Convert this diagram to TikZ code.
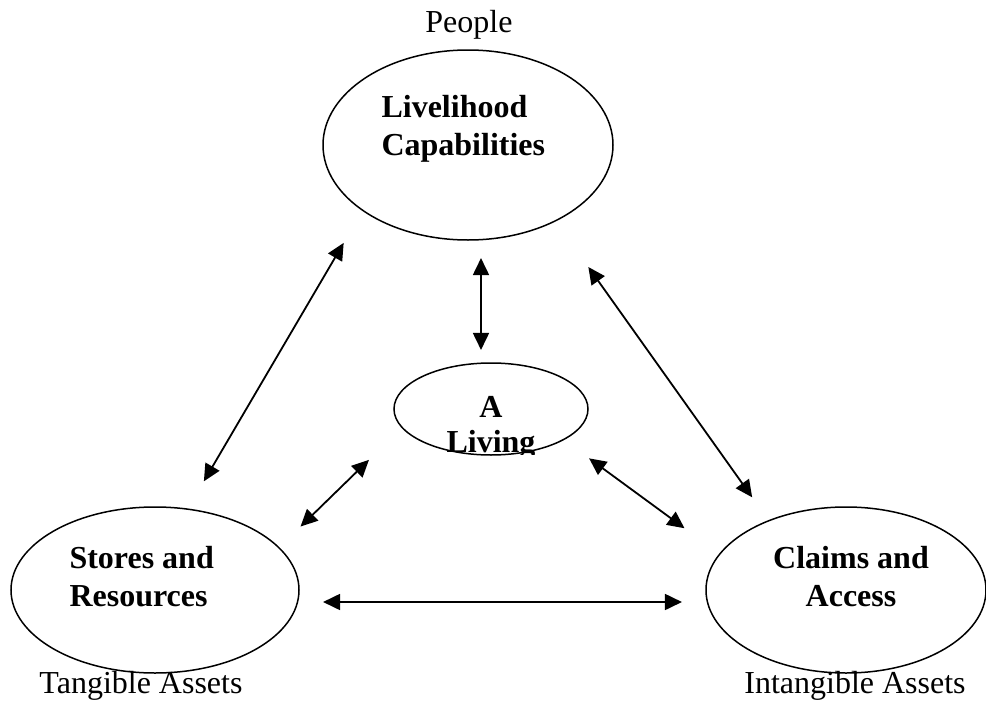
\documentclass[tikz,border=0pt]{standalone}
\usepackage{fontspec}
\setmainfont{Liberation Serif}
\usepackage{tikz}
\usetikzlibrary{positioning,arrows.meta,shapes.geometric}

\begin{document}
\begin{tikzpicture}[x=1pt, y=-1pt,
    every node/.style={font=\fontsize{32}{37.5}\selectfont},
    oval/.style={draw, ellipse, line width=1.5pt, inner sep=0pt},
    biarrow/.style={{Triangle[length=17pt, width=16pt]}-{Triangle[length=17pt, width=16pt]}, line width=1.8pt}]
  \useasboundingbox (0,0) rectangle (986,704);
  % the four circles
  \node[oval, minimum width=290pt, minimum height=190pt] (cap) at (468,145) {};
  \node[oval, minimum width=194pt, minimum height=92pt] (living) at (491,409) {};
  \node[oval, minimum width=288pt, minimum height=166pt] (stores) at (155,590) {};
  \node[oval, minimum width=280pt, minimum height=166pt] (claims) at (846,590) {};
  % texts (base = last line)
  \node[align=left, anchor=base west, font=\fontsize{32}{37.5}\selectfont\bfseries] (captext) at (378,155) {Livelihood\\Capabilities};
  \begin{scope}
    \clip (390,360) rectangle (592,454);
    \node[align=center, anchor=base, font=\fontsize{32}{35}\selectfont\bfseries] (livingtext) at (491,452) {A\\Living};
  \end{scope}
  \node[align=left, anchor=base west, font=\fontsize{32}{38}\selectfont\bfseries] (storestext) at (66,606) {Stores and\\Resources};
  \node[align=center, anchor=base, font=\fontsize{32}{38}\selectfont\bfseries] (claimstext) at (851,606) {Claims and\\Access};
  \node[anchor=base] (people) at (469,32) {People};
  \node[anchor=base] (tangible) at (141,693) {Tangible Assets};
  \node[anchor=base] (intangible) at (855,693) {Intangible Assets};
  % links
  \draw[biarrow, shorten <=17.3pt, shorten >=12.3pt] ([xshift=13pt]cap.south) -- ([xshift=-10pt]living.north);
  \draw[biarrow, shorten <=37pt, shorten >=31.5pt] (cap.212.4) -- (stores.68.5);
  \draw[biarrow, shorten <=56pt, shorten >=28pt] (cap.-41.4) -- (claims.138.3);
  \draw[biarrow, shorten <=45.7pt, shorten >=29.5pt] (living.192.4) -- (stores.19);
  \draw[biarrow, shorten <=31pt, shorten >=43pt] (living.-23.4) -- (claims.164);
  \draw[biarrow, shorten <=23.3pt, shorten >=23.3pt] ([yshift=-12pt]stores.east) -- ([yshift=-12pt]claims.west);
\end{tikzpicture}
\end{document}
